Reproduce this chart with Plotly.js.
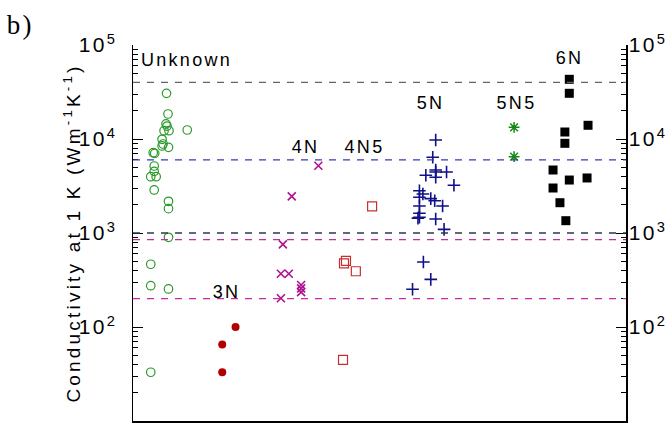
<!DOCTYPE html>
<html><head><meta charset="utf-8">
<script src="https://cdn.plot.ly/plotly-3.0.1.min.js"></script>
<style>html,body{margin:0;padding:0;background:#fff}#chart{width:672px;height:423px}
#chart svg text{letter-spacing:2.3px}
#chart svg text.ytitle{letter-spacing:3.2px}</style>
</head><body><div id="chart"></div>
<script>
// Data (x = position within the group lane, y = conductivity)
const unknownX = [6.8, 7.1, 6.7, 6.9, 6.3, 7.3, 11.0, 5.9, 6.1, 5.9, 7.2, 4.1, 4.4, 4.3, 4.3, 3.6, 4.7, 4.3, 7.2, 7.2, 7.2, 3.6, 3.6, 7.2, 3.6];
const unknownY = [30600, 18450, 14450, 13740, 12250, 12250, 12470, 9930, 8850, 8430, 8150, 7150, 7040, 5160, 4530, 3970, 3970, 2870, 2175, 1815, 900, 465, 275, 254, 33];
const n3X = [20.8, 18.1, 18.1];
const n3Y = [100, 65, 33];
const n4X = [37.6, 32.2, 30.4, 30.0, 31.6, 34.1, 34.1, 34.1, 30.0];
const n4Y = [5200, 2455, 758, 369, 369, 280, 258, 235, 202];
const n45X = [48.5, 43.2, 42.8, 45.2, 42.6];
const n45Y = [1923, 504, 476, 392, 44.6];
const n5X = [61.4, 60.8, 61.4, 61.4, 63.6, 59.4, 61.4, 65.1, 58.1, 58.8, 58.1, 60.4, 61.2, 62.8, 58.1, 58.1, 58.1, 57.8, 61.4, 63.1, 58.9, 60.4, 56.7];
const n5Y = [9750, 6390, 4680, 4460, 4460, 4110, 3915, 3215, 2820, 2600, 2400, 2320, 2207, 1938, 1938, 1620, 1470, 1440, 1409, 1094, 491, 321, 252];
const n55X = [77.3, 77.3];
const n55Y = [13300, 6490];
const n6X = [88.5, 88.5, 92.3, 87.6, 87.6, 85.2, 88.5, 92.1, 85.2, 86.6, 87.8];
const n6Y = [43150, 30630, 13990, 11870, 8995, 4680, 3660, 3850, 3010, 2100, 1352];

const groupLabels = ["Unknown", "3N", "4N", "4N5", "5N", "5N5", "6N"];
const labelX = [10.9, 18.9, 34.9, 46.9, 60.4, 77.7, 88.6];
const labelY = [69200, 236, 8220, 8220, 24150, 24150, 72700];

// Reference levels (horizontal dashed lines)
const refLevels = [40000, 6000, 1000, 850, 200];
const refColors = ["#666666", "#3a3ab4", "#34344e", "#c82aa0", "#c82aa0"];

const tickVals = [10, 100, 1000, 10000, 100000];
const tickText = ["10<sup>1</sup>", "10<sup>2</sup>", "10<sup>3</sup>", "10<sup>4</sup>", "10<sup>5</sup>"];
const rightTickVals = [100, 1000, 10000, 100000];
const rightTickText = ["10<sup>2</sup>", "10<sup>3</sup>", "10<sup>4</sup>", "10<sup>5</sup>"];

const traces = [
  {x: unknownX, y: unknownY, mode: "markers", type: "scatter",
   marker: {symbol: "circle-open", size: 8.5, color: "#2a9a2a", line: {width: 1.2}}},
  {x: n3X, y: n3Y, mode: "markers", type: "scatter",
   marker: {symbol: "circle", size: 8, color: "#b00000"}},
  {x: n4X, y: n4Y, mode: "markers", type: "scatter",
   marker: {symbol: "x-thin-open", size: 8, color: "#b0108f", line: {width: 1.6}}},
  {x: n45X, y: n45Y, mode: "markers", type: "scatter",
   marker: {symbol: "square-open", size: 9, color: "#c83030", line: {width: 1.2}}},
  {x: n5X, y: n5Y, mode: "markers", type: "scatter",
   marker: {symbol: "cross-thin-open", size: 9, color: "#101088", line: {width: 1.6}}},
  {x: n55X, y: n55Y, mode: "markers", type: "scatter",
   marker: {symbol: "asterisk-open", size: 9, color: "#128a12", line: {width: 1.5}}},
  {x: n6X, y: n6Y, mode: "markers", type: "scatter",
   marker: {symbol: "square", size: 9, color: "#000000"}},
  {x: [50], y: [1000], yaxis: "y2", mode: "markers", type: "scatter",
   marker: {opacity: 0}, hoverinfo: "skip"}
];

const shapes = refLevels.map((v, i) => ({
  type: "line", xref: "paper", x0: 0, x1: 1, yref: "y", y0: v, y1: v,
  line: {color: refColors[i], width: 1.3, dash: "7px,7px"}
}));

const annotations = groupLabels.map((t, i) => ({
  text: t, x: labelX[i], y: Math.log10(labelY[i]), xref: "x", yref: "y",
  showarrow: false, xanchor: "center", yanchor: "middle",
  font: {family: "Liberation Sans, Arial, sans-serif", size: 18, color: "#000"}
}));
annotations.push({
  text: "b)", xref: "paper", yref: "paper", x: -0.229, y: 1.053,
  showarrow: false, xanchor: "center", yanchor: "middle",
  font: {family: "Liberation Serif, Times New Roman, serif", size: 27, color: "#000"}
});

const axisFont = {family: "Liberation Sans, Arial, sans-serif", size: 21, color: "#000"};

const layout = {
  width: 672, height: 423,
  margin: {l: 133, r: 46, t: 45, b: 2},
  showlegend: false,
  paper_bgcolor: "#fff", plot_bgcolor: "#fff",
  xaxis: {range: [0, 100], showgrid: false, zeroline: false, showticklabels: false,
          ticks: "", showline: true, linecolor: "#000", linewidth: 1.5},
  yaxis: {type: "log", range: [1, 5], showgrid: false, zeroline: false,
          showline: true, linecolor: "#000", linewidth: 1.5,
          ticks: "inside", ticklen: 10, tickcolor: "#000",
          tickvals: tickVals, ticktext: tickText, tickfont: axisFont,
          ticklabelstandoff: 10,
          minor: {ticks: "inside", ticklen: 5, tickcolor: "#000", dtick: "D1"},
          title: {text: "Conductivity at 1 K (Wm<sup>-1</sup>K<sup>-1</sup>)",
                  font: {family: "Liberation Sans, Arial, sans-serif", size: 19, color: "#000"},
                  standoff: 0}},
  yaxis2: {type: "log", range: [1, 5], overlaying: "y", side: "right", anchor: "x",
           showgrid: false, zeroline: false,
           showline: true, linecolor: "#000", linewidth: 1.5,
           ticks: "inside", ticklen: 10, tickcolor: "#000",
           tickvals: rightTickVals, ticktext: rightTickText, tickfont: axisFont,
           ticklabelstandoff: -3,
           minor: {ticks: "inside", ticklen: 5, tickcolor: "#000", dtick: "D1"}},
  shapes: shapes,
  annotations: annotations
};

Plotly.newPlot("chart", traces, layout, {displayModeBar: false, staticPlot: true});
</script></body></html>
